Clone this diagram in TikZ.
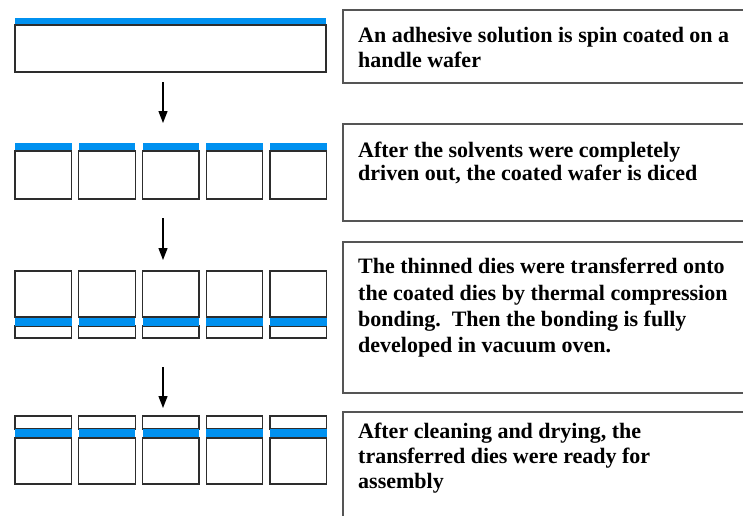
\documentclass[tikz,border=0pt]{standalone}
\usepackage{fontspec}
\setmainfont{Liberation Serif}
\usetikzlibrary{arrows.meta}
\definecolor{coat}{RGB}{0,145,240}
\definecolor{dieline}{RGB}{45,45,45}
\definecolor{frameline}{RGB}{85,85,85}
\begin{document}
\begin{tikzpicture}[x=1pt,y=-1pt,
  die/.style={draw=dieline,line width=1.3pt,fill=white},
  band/.style={fill=coat},
  frame/.style={draw=frameline,line width=1.6pt,fill=white},
  step text/.style={anchor=north west,inner sep=0pt,align=left,
    font=\bfseries\fontsize{22}{#1}\selectfont},
  flow/.style={line width=1.3pt,-{Triangle[width=9pt,length=12pt]}}]
  \clip (0,0) rectangle (743,515);
  \fill[white] (0,0) rectangle (743,515);

  % stage 1: coated handle wafer
  \fill[band] (15,18) rectangle (326,25);
  \draw[die] (15,25) rectangle (326,72);

  % stage 2: diced wafer, coating on top
  \foreach \i in {0,...,4} {
    \pgfmathsetmacro{\xa}{15+\i*63.75}
    \pgfmathsetmacro{\xb}{\xa+56.5}
    \fill[band] (\xa,143) rectangle (\xb,151);
    \draw[die] (\xa,151) rectangle (\xb,199);
  }

  % stage 3: thinned dies bonded onto the coated dies
  \foreach \i in {0,...,4} {
    \pgfmathsetmacro{\xa}{15+\i*63.75}
    \pgfmathsetmacro{\xb}{\xa+56.5}
    \draw[die] (\xa,326) rectangle (\xb,338);
    \fill[band] (\xa,316) rectangle (\xb,326);
    \draw[die] (\xa,271) rectangle (\xb,317);
  }

  % stage 4: transferred dies
  \foreach \i in {0,...,4} {
    \pgfmathsetmacro{\xa}{15+\i*63.75}
    \pgfmathsetmacro{\xb}{\xa+56.5}
    \draw[die] (\xa,416) rectangle (\xb,429);
    \fill[band] (\xa,429) rectangle (\xb,439);
    \draw[die] (\xa,438) rectangle (\xb,484);
  }

  % arrows between stages
  \coordinate (a1s) at (163,82);  \coordinate (a1e) at (163,123);
  \coordinate (a2s) at (163,218); \coordinate (a2e) at (163,260);
  \coordinate (a3s) at (163,367); \coordinate (a3e) at (163,408);
  \draw[flow] (a1s) -- (a1e);
  \draw[flow] (a2s) -- (a2e);
  \draw[flow] (a3s) -- (a3e);

  % description frames
  \draw[frame] (343,10) rectangle (790,83);
  \draw[frame] (343,124) rectangle (790,221);
  \draw[frame] (343,242) rectangle (790,393);
  \draw[frame] (343,412) rectangle (790,560);

  \node[step text=25] (t1) at (358,27)
    {An adhesive solution is spin coated on a\\handle wafer};
  \node[step text=23] (t2) at (358,142)
    {After the solvents were completely\\driven out, the coated wafer is diced};
  \node[step text=26.3] (t3) at (358,258)
    {The thinned dies were transferred onto\\the coated dies by thermal compression\\bonding.\ \ Then the bonding is fully\\developed in vacuum oven.};
  \node[step text=25] (t4) at (358,423)
    {After cleaning and drying, the\\transferred dies were ready for\\assembly};
\end{tikzpicture}
\end{document}
